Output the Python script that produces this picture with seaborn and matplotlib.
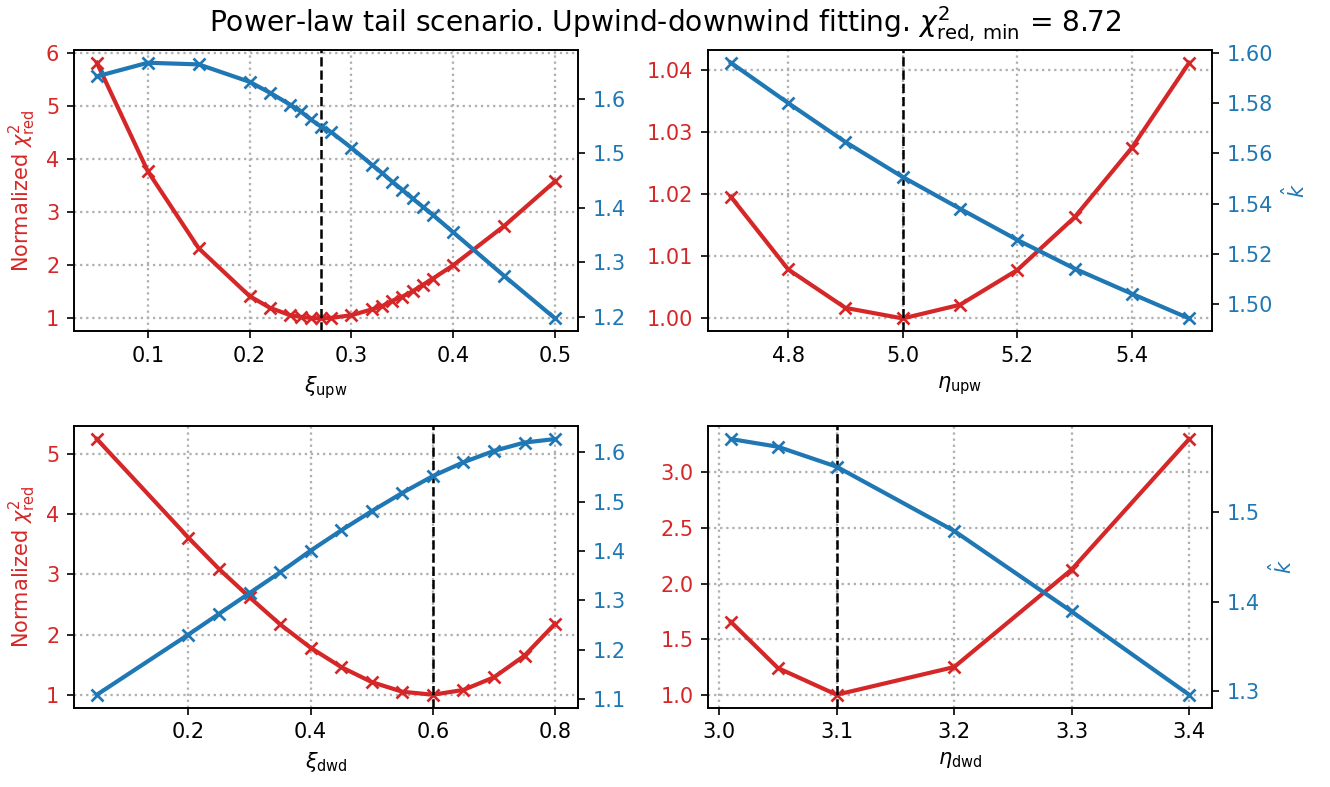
"""Upwind-downwind fitting scan: normalized chi2_red and k-hat vs. each parameter."""
import matplotlib
matplotlib.use("Agg")
import matplotlib.pyplot as plt
import numpy as np
import seaborn as sns

RED = "tab:red"
BLUE = "tab:blue"

# --- scanned parameter grids -------------------------------------------------
xi_upw = [0.05, 0.10, 0.15, 0.20, 0.22, 0.24, 0.25, 0.26, 0.27, 0.28, 0.30,
          0.32, 0.33, 0.34, 0.35, 0.36, 0.37, 0.38, 0.40, 0.45, 0.50]
chi_xi_upw = [5.81, 3.77, 2.32, 1.42, 1.20, 1.06, 1.03, 1.01, 1.00, 1.01, 1.06,
              1.17, 1.23, 1.33, 1.41, 1.51, 1.63, 1.75, 2.00, 2.74, 3.58]
k_xi_upw = [1.641, 1.666, 1.663, 1.631, 1.611, 1.589, 1.577, 1.562, 1.549,
            1.539, 1.510, 1.479, 1.464, 1.448, 1.433, 1.417, 1.402, 1.387,
            1.355, 1.275, 1.197]

eta_upw = [4.7, 4.8, 4.9, 5.0, 5.1, 5.2, 5.3, 5.4, 5.5]
chi_eta_upw = [1.0196, 1.0079, 1.0017, 1.0000, 1.0022, 1.0078, 1.0163,
               1.0275, 1.0412]
k_eta_upw = [1.596, 1.580, 1.5645, 1.5506, 1.538, 1.5256, 1.5142, 1.5042,
             1.4944]

xi_dwd = [0.05, 0.20, 0.25, 0.30, 0.35, 0.40, 0.45, 0.50, 0.55, 0.60, 0.65,
          0.70, 0.75, 0.80]
chi_xi_dwd = [5.25, 3.61, 3.09, 2.62, 2.17, 1.78, 1.46, 1.21, 1.05, 1.00,
              1.08, 1.29, 1.65, 2.18]
k_xi_dwd = [1.109, 1.231, 1.273, 1.315, 1.357, 1.401, 1.442, 1.481, 1.518,
            1.552, 1.580, 1.603, 1.620, 1.627]

eta_dwd = [3.01, 3.05, 3.10, 3.20, 3.30, 3.40]
chi_eta_dwd = [1.655, 1.24, 1.00, 1.249, 2.126, 3.30]
k_eta_dwd = [1.5816, 1.573, 1.5507, 1.479, 1.389, 1.296]

best = {"xi_upw": 0.27, "eta_upw": 5.0, "xi_dwd": 0.60, "eta_dwd": 3.10}
chi2_red_min = 8.72

panels = [
    (xi_upw, chi_xi_upw, k_xi_upw, best["xi_upw"], r"$\xi_{\rm upw}$"),
    (eta_upw, chi_eta_upw, k_eta_upw, best["eta_upw"], r"$\eta_{\rm upw}$"),
    (xi_dwd, chi_xi_dwd, k_xi_dwd, best["xi_dwd"], r"$\xi_{\rm dwd}$"),
    (eta_dwd, chi_eta_dwd, k_eta_dwd, best["eta_dwd"], r"$\eta_{\rm dwd}$"),
]

plt.rcParams["font.family"] = ["DejaVu Sans"]
plt.rcParams["font.size"] = 10

fig, axes = plt.subplots(2, 2, figsize=(1330 / 150, 787 / 150), dpi=150)
fig.subplots_adjust(left=0.0556, right=0.9113, bottom=0.101, top=0.9365,
                    wspace=0.258, hspace=0.338)

line_kw = dict(lw=2, marker="x", ms=5.5, mew=1.3)

for i, (ax, (x, chi, k, xbest, xlabel)) in enumerate(zip(axes.flat, panels)):
    sns.lineplot(x=x, y=chi, ax=ax, color=RED, mec=RED, **line_kw)
    ax.axvline(xbest, color="k", ls="--", lw=1.2)
    ax.grid(True, ls=":", color="#b0b0b0", lw=1.1)
    ax.tick_params(axis="y", labelcolor=RED)
    ax.set_xlabel(xlabel)

    ax2 = ax.twinx()
    sns.lineplot(x=x, y=k, ax=ax2, color=BLUE, mec=BLUE, **line_kw)
    ax2.tick_params(axis="y", labelcolor=BLUE)

    if i % 2 == 0:
        ax.set_ylabel(r"Normalized $\chi^2_{\rm red}$", color=RED)
    else:
        ax2.set_ylabel(r"$\hat{k}$", color=BLUE)

fig.suptitle(r"Power-law tail scenario. Upwind-downwind fitting. "
             r"$\chi^2_{\rm red,\,min}$ = " + f"{chi2_red_min}",
             fontsize=13.5, y=0.995, va="top")

fig.savefig("out.png", dpi=150)
